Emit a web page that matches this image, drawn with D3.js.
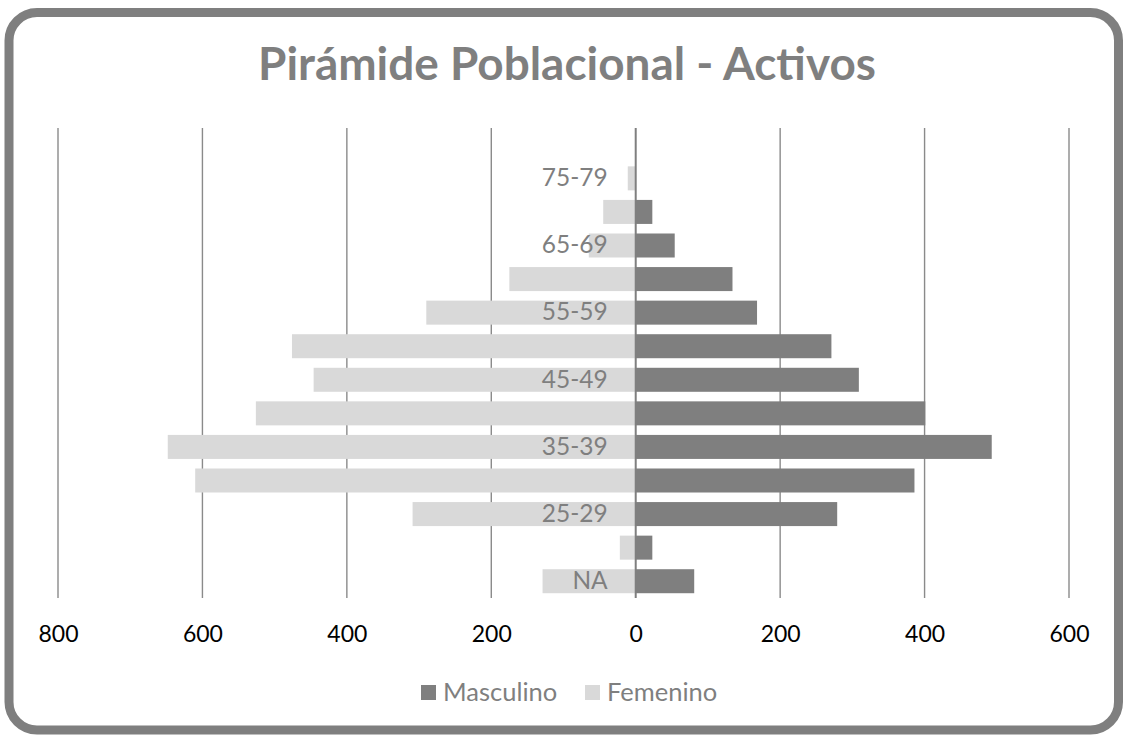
<!DOCTYPE html>
<html><head><meta charset="utf-8">
<script src="https://cdn.jsdelivr.net/npm/d3@7"></script>
<style>html,body{margin:0;padding:0;background:#fff;}svg{display:block;}</style>
</head><body>
<svg id="chart" width="1124" height="735"></svg>
<script>
// Data (bottom to top)
const categories = ["NA","20-24","25-29","30-34","35-39","40-44","45-49","50-54","55-59","60-64","65-69","70-74","75-79","80+"];
const masculino = [81, 23, 279, 386, 493, 401, 309, 271, 168, 134, 54, 23, 0, 0];
const femenino  = [129, 22, 309, 610, 648, 526, 446, 476, 290, 175, 65, 45, 11, 0];
const xTicks = [-800, -600, -400, -200, 0, 200, 400, 600];
const shownLabels = ["NA","25-29","35-39","45-49","55-59","65-69","75-79"];
const seriesNames = ["Masculino", "Femenino"];
const title = "Pirámide Poblacional - Activos";

const svg = d3.select("#chart");
const font = "Lato, 'Open Sans', sans-serif";
const grey = "#7f7f7f";
const colM = "#7f7f7f", colF = "#d9d9d9";

// border
svg.append("rect").attr("x", 9).attr("y", 12.5).attr("width", 1109.5).attr("height", 717.5)
  .attr("rx", 28).attr("ry", 28).attr("fill", "#fff").attr("stroke", grey).attr("stroke-width", 9);

const plot = {left: 58, right: 1069, top: 128, bottom: 598};
const x = d3.scaleLinear().domain([-800, 600]).range([plot.left, plot.right]);
const y = d3.scaleBand().domain(categories.slice().reverse()).range([plot.top, plot.bottom]).paddingInner(0.285).paddingOuter(0.1425);

// title
const t = svg.append("text").attr("x", 567).attr("y", 80).attr("text-anchor", "middle")
  .attr("font-family", font).attr("font-weight", "bold").attr("font-size", 42).attr("fill", grey).text(title);
const tw = t.node().getComputedTextLength();
t.attr("font-size", 42 * 618 / tw);

// gridlines
svg.append("g").selectAll("line").data(xTicks.filter(d => d !== 0)).join("line")
  .attr("x1", d => x(d)).attr("x2", d => x(d)).attr("y1", plot.top).attr("y2", plot.bottom)
  .attr("stroke", "#8a8a8a").attr("stroke-width", 1.4);

// bars
svg.append("g").selectAll("rect").data(categories).join("rect")
  .attr("x", (d, i) => x(-femenino[i])).attr("width", (d, i) => x(0) - x(-femenino[i]))
  .attr("y", d => y(d)).attr("height", y.bandwidth()).attr("fill", colF);
svg.append("g").selectAll("rect").data(categories).join("rect")
  .attr("x", x(0)).attr("width", (d, i) => x(masculino[i]) - x(0))
  .attr("y", d => y(d)).attr("height", y.bandwidth()).attr("fill", colM);

// zero line
svg.append("line").attr("x1", x(0)).attr("x2", x(0)).attr("y1", plot.top).attr("y2", plot.bottom)
  .attr("stroke", grey).attr("stroke-width", 2);

// category labels
const yAxis = svg.append("g").attr("transform", `translate(${x(0)},0)`)
  .call(d3.axisLeft(y).tickValues(shownLabels).tickSize(0).tickPadding(28));
yAxis.select(".domain").remove();
yAxis.selectAll("text").attr("font-family", font).attr("font-size", 24.5).attr("fill", grey);

// x axis labels
const xAxis = svg.append("g").attr("transform", `translate(0,${plot.bottom})`)
  .call(d3.axisBottom(x).tickValues(xTicks).tickFormat(d => Math.abs(d)).tickSize(0).tickPadding(28));
xAxis.select(".domain").remove();
xAxis.selectAll("text").attr("font-family", font).attr("font-size", 23).attr("fill", "#000");

// legend
const leg = svg.append("g");
const legItems = [{name: seriesNames[0], color: colM, x: 421}, {name: seriesNames[1], color: colF, x: 585}];
legItems.forEach(it => {
  leg.append("rect").attr("x", it.x).attr("y", 685).attr("width", 15).attr("height", 15).attr("fill", it.color);
  leg.append("text").attr("x", it.x + 22).attr("y", 701).attr("font-family", font).attr("font-size", 25.5)
    .attr("fill", grey).text(it.name);
});
</script>
</body></html>
